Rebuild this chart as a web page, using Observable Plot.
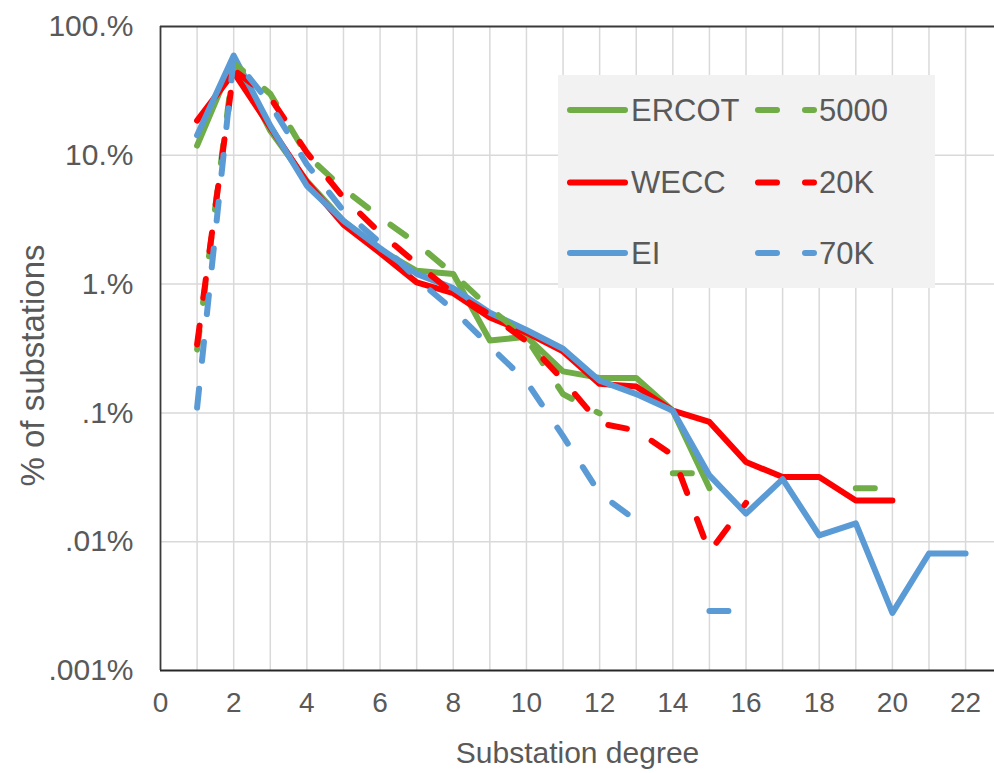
<!DOCTYPE html>
<html>
<head>
<meta charset="utf-8">
<script src="https://cdn.jsdelivr.net/npm/d3@7"></script>
<script src="https://cdn.jsdelivr.net/npm/@observablehq/plot@0.6"></script>
<style>
  html, body { margin: 0; padding: 0; background: #fff; }
  #wrap { position: relative; width: 994px; height: 773px; font-family: "Liberation Sans", Arial, sans-serif; }
  #legend { position: absolute; left: 558px; top: 75px; width: 377px; height: 213px; background: #F2F2F2; }
</style>
</head>
<body>
<div id="wrap"><div id="legend"></div></div>
<script>
// Substation degree (x) and % of substations (y, in percent)
const degrees = [1,2,3,4,5,6,7,8,9,10,11,12,13,14,15,16,17,18,19,20,21,22];
const ercot = [11.9, 56, 15.5, 6.3, 3.1, 1.85, 1.27, 1.2, 0.365, 0.39, 0.21, 0.187, 0.187, 0.104, 0.026, null, null, null, null, null, null, null];
const wecc  = [18.6, 44, 16.5, 6.2, 2.9, 1.75, 1.03, 0.85, 0.55, 0.42, 0.30, 0.168, 0.16, 0.104, 0.085, 0.0415, 0.0318, 0.0318, 0.0209, 0.0209, null, null];
const ei    = [14.3, 59.5, 17, 5.8, 3.1, 1.9, 1.2, 0.93, 0.60, 0.44, 0.315, 0.178, 0.14, 0.104, 0.0327, 0.0165, 0.0306, 0.0112, 0.0139, 0.0028, 0.0081, 0.0081];
const s5000 = [0.31, 52, 30, 10, 5.5, 3.3, 2.07, 1.2, 0.65, 0.38, 0.14, 0.099, null, 0.034, 0.034, null, null, null, 0.026, 0.026, null, null];
const s20k  = [0.34, 46, 28, 10.5, 4.7, 2.5, 1.44, 0.85, 0.58, 0.36, 0.18, 0.083, 0.073, 0.047, 0.0083, 0.02, null, null, null, null, null, null];
const s70k  = [0.11, 57, 25, 8.5, 3.7, 2.1, 1.1, 0.63, 0.33, 0.175, 0.066, 0.0237, 0.0146, null, 0.0029, 0.0029, null, null, null, null, null, null];

const seriesNames  = ["ERCOT", "WECC", "EI", "5000", "20K", "70K"];
const seriesValues = [ercot, wecc, ei, s5000, s20k, s70k];
const seriesColors = ["#70AD47", "#FF0000", "#5B9BD5", "#70AD47", "#FF0000", "#5B9BD5"];
const seriesDashed = [false, false, false, true, true, true];

const xTicks = [0,2,4,6,8,10,12,14,16,18,20,22];
const xGrid = d3.range(1, 23);
const yTicks = [100, 10, 1, 0.1, 0.01, 0.001];
const yTickLabels = ["100.%", "10.%", "1.%", ".1%", ".01%", ".001%"];
const xTitle = "Substation degree";
const yTitle = "% of substations";

const DASH = "19,28";
const font = "'Liberation Sans', Arial, sans-serif";
const textColor = "#595959";

const rows = [];
seriesNames.forEach((name, s) => {
  degrees.forEach((d, i) => rows.push({series: name, s, degree: d, value: seriesValues[s][i]}));
});

const lineMarks = seriesNames.map((name, s) =>
  Plot.line(rows.filter(r => r.s === s), {
    x: "degree",
    y: r => r.value == null ? NaN : r.value,
    stroke: seriesColors[s],
    strokeWidth: 6,
    strokeLinecap: "round",
    strokeLinejoin: "round",
    strokeDasharray: seriesDashed[s] ? DASH : null
  })
);

const chart = Plot.plot({
  width: 994,
  height: 773,
  marginLeft: 160,
  marginRight: 0,
  marginTop: 26,
  marginBottom: 103,
  style: {fontFamily: font, background: "transparent", overflow: "visible"},
  x: {domain: [0, 22.79], axis: null},
  y: {type: "log", domain: [0.001, 100], axis: null},
  marks: [
    Plot.gridX(xGrid, {stroke: "#D9D9D9", strokeOpacity: 1, strokeWidth: 1.5}),
    Plot.gridY(yTicks.slice(1, 5), {stroke: "#D9D9D9", strokeOpacity: 1, strokeWidth: 1.5}),
    ...lineMarks,
    Plot.ruleY([100], {stroke: "#3a3a3a", strokeWidth: 1.8}),
    Plot.ruleY([0.001], {stroke: "#262626", strokeWidth: 2}),
    Plot.ruleX([0], {stroke: "#3a3a3a", strokeWidth: 1.8}),
    Plot.axisX(xTicks, {tickSize: 0, tickPadding: 22, fontSize: 28, color: textColor, label: null}),
    Plot.axisY(yTicks, {tickSize: 0, tickPadding: 27, fontSize: 30, color: textColor, label: null,
      tickFormat: d => yTickLabels[yTicks.indexOf(d)]}),
    Plot.text([xTitle], {frameAnchor: "bottom", dy: 83, fontSize: 30, fill: textColor, lineAnchor: "middle", textAnchor: "middle"}),
    Plot.text([yTitle], {frameAnchor: "left", dx: -127, dy: 17, rotate: -90, fontSize: 33, fill: textColor, lineAnchor: "middle", textAnchor: "middle"})
  ]
});
document.getElementById("wrap").prepend(chart);

// Legend (overlay inside plot area)
const legend = d3.select("#legend").append("svg")
  .attr("width", 377).attr("height", 213)
  .style("font-family", font);
const rowY = [35, 107.5, 178];
seriesNames.forEach((name, s) => {
  const col = seriesDashed[s] ? 1 : 0;
  const r = s % 3;
  const x1 = col === 0 ? 12 : 200;
  const x2 = col === 0 ? 67 : 256;
  legend.append("line")
    .attr("x1", x1).attr("x2", x2).attr("y1", rowY[r]).attr("y2", rowY[r])
    .attr("stroke", seriesColors[s]).attr("stroke-width", 6)
    .attr("stroke-linecap", "round")
    .attr("stroke-dasharray", seriesDashed[s] ? DASH : null);
  legend.append("text")
    .attr("x", col === 0 ? 73 : 261).attr("y", rowY[r]).attr("dy", "0.35em")
    .attr("font-size", 31).attr("fill", textColor)
    .text(name);
});
</script>
</body>
</html>
